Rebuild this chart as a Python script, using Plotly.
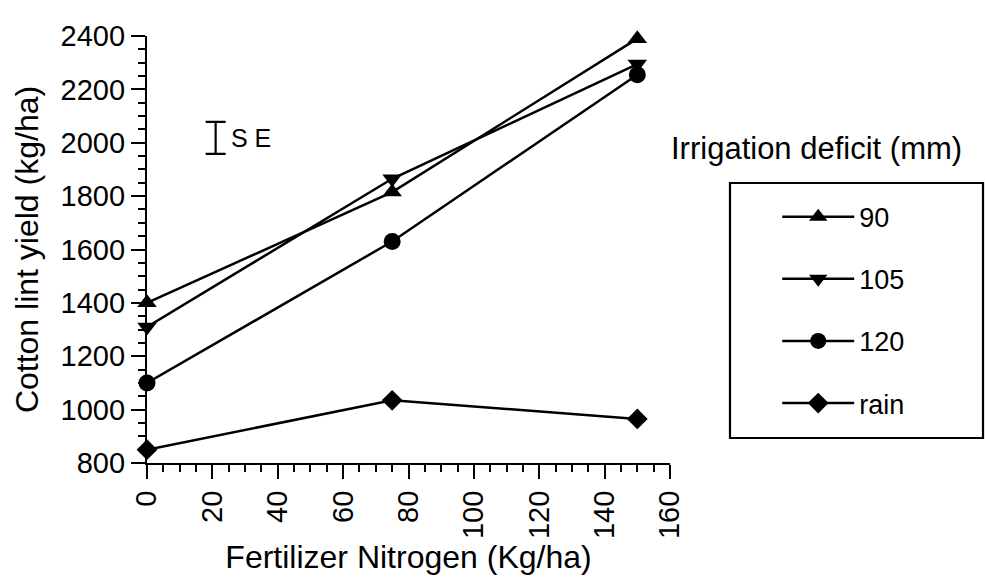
import plotly.graph_objects as go

# ---- data ----
nitrogen = [0, 75, 150]
yield_90 = [1400, 1815, 2390]
yield_105 = [1310, 1865, 2295]
yield_120 = [1100, 1630, 2255]
yield_rain = [850, 1035, 965]
series_names = ["90", "105", "120", "rain"]
series_symbols = ["triangle-up", "triangle-down", "circle", "diamond"]

se_x = [21]
se_y = [2018]
se_half = [60]

FONT = "Liberation Sans, Arial, Helvetica, sans-serif"

fig = go.Figure()
for i, (name, ys, sym) in enumerate(zip(series_names,
                                        [yield_90, yield_105, yield_120, yield_rain],
                                        series_symbols)):
    fig.add_trace(go.Scatter(
        x=nitrogen, y=ys, name=name, mode="lines+markers",
        line=dict(color="black", width=2.5),
        marker=dict(symbol=sym, size=17 if sym != "diamond" else 16, color="black"),
        cliponaxis=False, legendgroup=f"g{i}",
    ))

# SE indicator
fig.add_trace(go.Scatter(
    x=se_x, y=se_y, mode="markers", showlegend=False,
    marker=dict(size=1, color="rgba(0,0,0,0)"),
    error_y=dict(type="data", array=se_half, visible=True,
                 color="black", thickness=2.2, width=10),
    hoverinfo="skip",
))

fig.add_annotation(x=se_x[0] + 4, y=se_y[0], xref="x", yref="y",
                   text="S E", showarrow=False, xanchor="left", yanchor="middle",
                   font=dict(family=FONT, size=25, color="black"))

# legend title outside the box
fig.add_annotation(x=1.281, y=0.7377, xref="paper", yref="paper",
                   text="Irrigation deficit (mm)", showarrow=False,
                   xanchor="center", yanchor="middle",
                   font=dict(family=FONT, size=31, color="black"))

# legend box
fig.add_shape(type="rect", xref="paper", yref="paper",
              x0=1.1147, x1=1.5985, y0=0.0585, y1=0.6557,
              line=dict(color="black", width=2.2), fillcolor="rgba(0,0,0,0)")

axis_common = dict(
    showline=True, linecolor="black", linewidth=2.2,
    showgrid=False, zeroline=False, ticks="outside", tickcolor="black",
    tickwidth=2, tickfont=dict(family=FONT, size=29, color="black"),
)

fig.update_xaxes(
    range=[0, 160], tickmode="linear", tick0=0, dtick=20,
    tickangle=-90, ticklen=14,
    minor=dict(tickmode="linear", tick0=0, dtick=5, ticklen=7,
               ticks="outside", tickcolor="black", tickwidth=2),
    title=dict(text="Fertilizer Nitrogen (Kg/ha)", standoff=8,
               font=dict(family=FONT, size=32, color="black")),
    **axis_common,
)
fig.update_yaxes(
    range=[800, 2400], tickmode="linear", tick0=800, dtick=200,
    ticklen=14,
    minor=dict(tickmode="linear", tick0=800, dtick=50, ticklen=7,
               ticks="outside", tickcolor="black", tickwidth=2),
    title=dict(text="Cotton lint yield (kg/ha)", standoff=12,
               font=dict(family=FONT, size=32, color="black")),
    **axis_common,
)

fig.update_layout(
    width=985, height=580,
    margin=dict(l=147, r=315, t=36, b=117, autoexpand=False),
    paper_bgcolor="white", plot_bgcolor="white",
    showlegend=True,
    legend=dict(
        x=1.205, y=0.633, xanchor="left", yanchor="top",
        xref="paper", yref="paper",
        font=dict(family=FONT, size=27, color="black"),
        itemwidth=72, tracegroupgap=24, borderwidth=0,
        bgcolor="rgba(0,0,0,0)",
    ),
)

fig.write_html(
    "out.html",
    config={"displayModeBar": False},
    post_script="document.body.style.margin='0';document.body.style.padding='0';",
)
